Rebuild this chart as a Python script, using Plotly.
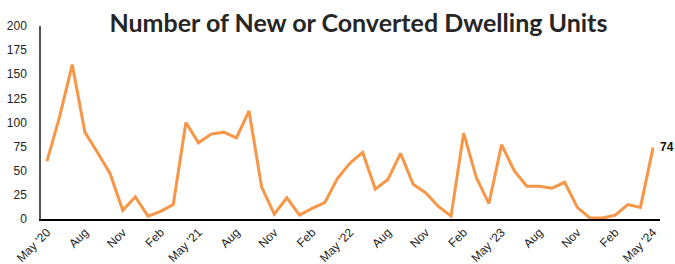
import plotly.graph_objects as go

values = [60, 106, 160, 90, 69, 47, 9, 23, 3, 8, 15, 100, 79, 88, 90, 84, 112,
          33, 5, 22, 4, 11, 17, 42, 58, 69, 31, 41, 68, 36, 27, 13, 3, 89, 43,
          16, 77, 50, 34, 34, 32, 38, 12, 1, 1, 4, 15, 12, 74]
tick_labels = ["May '20", "Aug", "Nov", "Feb", "May '21", "Aug", "Nov", "Feb",
               "May '22", "Aug", "Nov", "Feb", "May '23", "Aug", "Nov", "Feb", "May '24"]
title_text = "Number of New or Converted Dwelling Units"

x = list(range(len(values)))
tick_vals = list(range(0, len(values), 3))

fig = go.Figure()
fig.add_trace(go.Scatter(x=x, y=values, mode="lines",
                         line=dict(color="#F79646", width=3), hoverinfo="y"))

fig.add_annotation(x=x[-1], y=values[-1], text="<b>%d</b>" % values[-1],
                   showarrow=False, xanchor="left", xshift=6, yshift=1, borderpad=0,
                   font=dict(family="Liberation Sans, Arial", size=12, color="#111"))

fig.update_layout(
    width=675, height=264,
    margin=dict(l=41, r=15, t=26, b=45),
    paper_bgcolor="white", plot_bgcolor="white",
    showlegend=False,
    title=dict(text="<b>" + title_text + "</b>", x=0.531, xanchor="center",
               y=0.913, yanchor="middle",
               font=dict(family="Lato, sans-serif", size=25, color="#262626")),
)
fig.update_xaxes(range=[-0.475, 48.55], tickmode="array", tickvals=tick_vals,
                 ticktext=tick_labels, tickangle=-45, showgrid=False, automargin=False,
                 showline=True, linecolor="#000", linewidth=1.5, zeroline=False,
                 ticks="", tickfont=dict(family="Liberation Sans, Arial", size=12, color="#222"))
fig.update_yaxes(range=[0, 200], dtick=25, showgrid=False, showline=True, automargin=False,
                 linecolor="#555", linewidth=1.5, zeroline=False, ticks="",
                 ticklabelstandoff=10,
                 tickfont=dict(family="Liberation Sans, Arial", size=12, color="#222"))

fig.write_html("out.html", config={"displayModeBar": False},
               post_script="document.body.style.margin='0';document.body.style.overflow='hidden';")
